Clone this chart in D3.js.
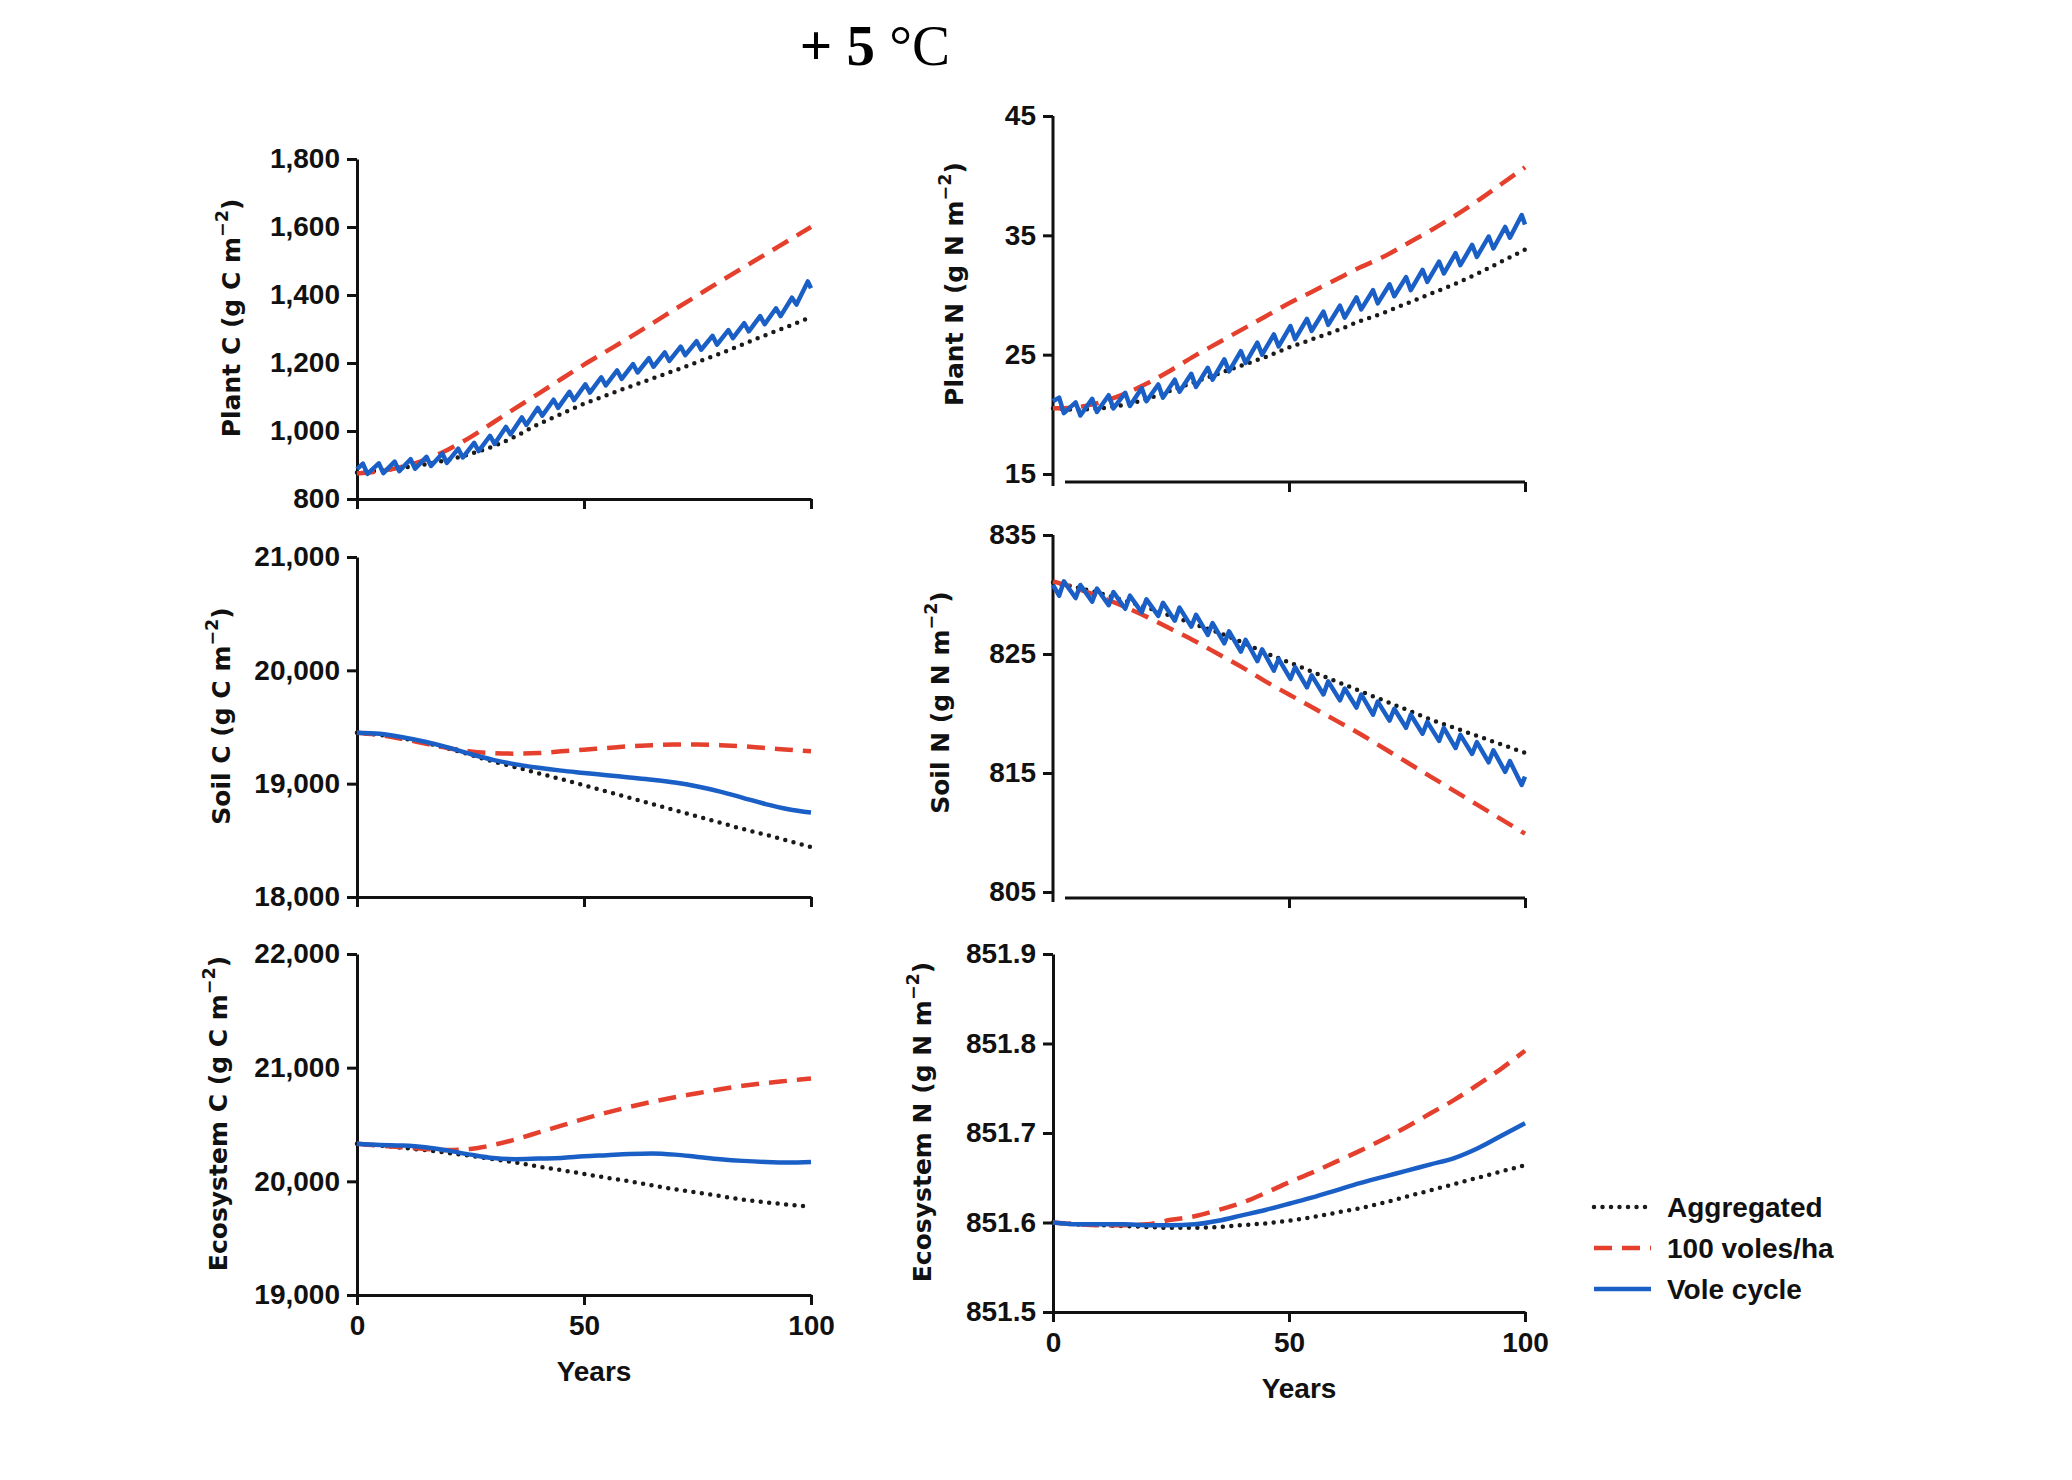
<!DOCTYPE html>
<html>
<head>
<meta charset="utf-8">
<script src="https://cdn.jsdelivr.net/npm/d3@7"></script>
<style>
    body { margin: 0; background: #fff; }
    .tick text { font-family: "Liberation Sans", Arial, sans-serif; font-weight: bold; font-size: 28px; fill: #111; }
    .axis path, .axis line { stroke: #111; stroke-width: 3px; }
</style>
</head>
<body>
<div id="chart"></div>
<script>

// years for the smooth series and for the vole cycle series (peak / crash of each ~3.5 year cycle)
var years = [0, 5, 10, 15, 20, 25, 30, 35, 40, 45, 50, 55, 60, 65, 70, 75, 80, 85, 90, 95, 100];
var cycleYears = [0, 1.3, 2.3, 4.8, 5.8, 8.3, 9.3, 11.8, 12.8, 15.3, 16.3, 18.8, 19.8, 22.3, 23.3, 25.8, 26.8,
                  29.3, 30.3, 32.8, 33.8, 36.3, 37.3, 39.8, 40.8, 43.3, 44.3, 46.8, 47.8, 50.3, 51.3, 53.8, 54.8,
                  57.3, 58.3, 60.8, 61.8, 64.3, 65.3, 67.8, 68.8, 71.3, 72.3, 74.8, 75.8, 78.3, 79.3, 81.8, 82.8,
                  85.3, 86.3, 88.8, 89.8, 92.3, 93.3, 95.8, 96.8, 99.3, 100];
var xTicks = [0, 50, 100];

var seriesNames = ["Aggregated", "100 voles/ha", "Vole cycle"];

// Plant C
var plantCTicks = [800, 1000, 1200, 1400, 1600, 1800];
var plantCAgg = [878, 884, 892, 902, 915, 933, 955, 985, 1020, 1050, 1080, 1105, 1130, 1154, 1178, 1203, 1228, 1255, 1282, 1308, 1335];
var plantCDense = [875, 882, 895, 915, 945, 982, 1025, 1068, 1110, 1153, 1195, 1235, 1275, 1316, 1358, 1399, 1440, 1480, 1520, 1560, 1600];
var plantCCycle = [888, 904, 874, 905, 876, 910, 882, 917, 889, 924, 897, 934, 906, 948, 922, 965, 941,
                   986, 962, 1012, 990, 1040, 1018, 1068, 1045, 1092, 1068, 1115, 1091, 1137, 1113, 1158, 1134,
                   1178, 1153, 1197, 1172, 1214, 1189, 1231, 1206, 1248, 1223, 1264, 1239, 1280, 1254, 1297, 1273,
                   1317, 1293, 1338, 1314, 1361, 1338, 1392, 1372, 1440, 1420];

// Plant N
var plantNTicks = [15, 25, 35, 45];
var plantNAgg = [20.5, 20.4, 20.5, 20.8, 21.3, 22.0, 22.7, 23.4, 24.1, 24.8, 25.6, 26.3, 27.0, 27.8, 28.5, 29.3, 30.1, 30.9, 31.8, 32.8, 33.8];
var plantNDense = [20.5, 20.6, 21.0, 21.7, 22.6, 23.7, 24.9, 26.0, 27.1, 28.2, 29.3, 30.3, 31.3, 32.3, 33.2, 34.3, 35.4, 36.6, 37.9, 39.3, 40.7];
var plantNCycle = [21.1, 21.4, 20.1, 21.0, 19.9, 21.3, 20.2, 21.6, 20.5, 21.8, 20.7, 22.2, 21.1, 22.5, 21.4, 22.9, 21.9,
                   23.4, 22.3, 23.9, 22.9, 24.6, 23.6, 25.3, 24.3, 26.0, 25.0, 26.7, 25.7, 27.4, 26.3, 28.0, 27.0,
                   28.6, 27.5, 29.1, 28.1, 29.8, 28.8, 30.4, 29.3, 30.9, 29.9, 31.5, 30.4, 32.1, 31.1, 32.8, 31.8,
                   33.5, 32.5, 34.2, 33.2, 34.9, 33.9, 35.7, 34.8, 36.7, 35.9];

// Soil C
var soilCTicks = [18000, 19000, 20000, 21000];
var soilCAgg = [19450, 19430, 19400, 19360, 19310, 19255, 19195, 19145, 19092, 19040, 18985, 18930, 18875, 18820, 18765, 18710, 18655, 18600, 18550, 18495, 18440];
var soilCDense = [19450, 19430, 19395, 19355, 19315, 19285, 19270, 19265, 19270, 19285, 19300, 19315, 19330, 19340, 19345, 19345, 19340, 19330, 19315, 19300, 19285];
var soilCCycle = [19450, 19440, 19410, 19370, 19320, 19262, 19210, 19170, 19140, 19115, 19095, 19075, 19055, 19035, 19010, 18975, 18930, 18875, 18820, 18775, 18745];

// Soil N
var soilNTicks = [805, 815, 825, 835];
var soilNAgg = [831.0, 830.6, 830.1, 829.5, 828.9, 828.2, 827.5, 826.8, 826.0, 825.1, 824.3, 823.5, 822.7, 821.9, 821.1, 820.3, 819.5, 818.8, 818.1, 817.4, 816.7];
var soilNDense = [831.1, 830.5, 829.8, 829.0, 828.1, 827.1, 826.1, 825.0, 823.9, 822.7, 821.6, 820.5, 819.4, 818.3, 817.1, 815.9, 814.7, 813.5, 812.3, 811.1, 809.9];
var soilNCycle = [830.8, 829.9, 831.1, 829.7, 830.8, 829.4, 830.5, 829.1, 830.2, 828.8, 829.9, 828.5, 829.6, 828.2, 829.3, 827.8, 828.9,
                  827.3, 828.3, 826.6, 827.6, 825.9, 826.9, 825.2, 826.2, 824.4, 825.4, 823.6, 824.6, 822.9, 823.9, 822.2, 823.2,
                  821.6, 822.7, 821.1, 822.1, 820.5, 821.6, 819.9, 821.0, 819.4, 820.4, 818.8, 819.9, 818.3, 819.3, 817.7, 818.8,
                  817.1, 818.2, 816.6, 817.6, 815.9, 816.9, 815.1, 816.0, 814.0, 814.7];

// Ecosystem C
var ecoCTicks = [19000, 20000, 21000, 22000];
var ecoCAgg = [20330, 20315, 20295, 20275, 20250, 20225, 20195, 20165, 20130, 20098, 20065, 20032, 20000, 19965, 19930, 19900, 19870, 19840, 19815, 19795, 19775];
var ecoCDense = [20330, 20315, 20300, 20285, 20275, 20285, 20320, 20370, 20430, 20490, 20550, 20605, 20655, 20700, 20740, 20775, 20810, 20840, 20865, 20885, 20905];
var ecoCCycle = [20330, 20320, 20315, 20300, 20270, 20235, 20205, 20195, 20200, 20205, 20220, 20230, 20240, 20245, 20235, 20215, 20195, 20180, 20170, 20165, 20170];

// Ecosystem N
var ecoNTicks = [851.5, 851.6, 851.7, 851.8, 851.9];
var ecoNAgg = [851.600, 851.598, 851.597, 851.596, 851.595, 851.594, 851.594, 851.595, 851.597, 851.599, 851.602, 851.606, 851.611, 851.616, 851.622, 851.629, 851.636, 851.643, 851.650, 851.657, 851.664];
var ecoNDense = [851.600, 851.598, 851.597, 851.597, 851.598, 851.603, 851.607, 851.614, 851.622, 851.633, 851.645, 851.656, 851.668, 851.680, 851.693, 851.707, 851.722, 851.737, 851.754, 851.772, 851.792];
var ecoNCycle = [851.600, 851.598, 851.598, 851.598, 851.597, 851.597, 851.598, 851.602, 851.608, 851.614, 851.621, 851.628, 851.636, 851.644, 851.651, 851.658, 851.665, 851.672, 851.683, 851.697, 851.711];

var W = 2072, H = 1480;
var colors = { agg: "#1a1a1a", dense: "#e5402d", cycle: "#1a5fc6" };
var labelFont = "\"DejaVu Sans\", Verdana, sans-serif";
var tickFont = "\"Liberation Sans\", Arial, sans-serif";

var panels = [
    { name: "Plant C (g C m", x0: 357, x1: 811, top: 159, bottom: 499, gap: 0, labelX: 231,
      ticks: plantCTicks, fmt: d3.format(","), agg: plantCAgg, dense: plantCDense, cycle: plantCCycle, cycleX: cycleYears, xLabels: false },
    { name: "Soil C (g C m", x0: 357, x1: 811, top: 557, bottom: 897, gap: 0, labelX: 221,
      ticks: soilCTicks, fmt: d3.format(","), agg: soilCAgg, dense: soilCDense, cycle: soilCCycle, cycleX: years, xLabels: false },
    { name: "Ecosystem C (g C m", x0: 357, x1: 811, top: 954, bottom: 1295, gap: 0, labelX: 218,
      ticks: ecoCTicks, fmt: d3.format(","), agg: ecoCAgg, dense: ecoCDense, cycle: ecoCCycle, cycleX: years, xLabels: true },
    { name: "Plant N (g N m", x0: 1053, x1: 1525, top: 116, bottom: 474, gap: 8, labelX: 954,
      ticks: plantNTicks, fmt: d3.format("d"), agg: plantNAgg, dense: plantNDense, cycle: plantNCycle, cycleX: cycleYears, xLabels: false },
    { name: "Soil N (g N m", x0: 1053, x1: 1525, top: 535, bottom: 892, gap: 6, labelX: 940,
      ticks: soilNTicks, fmt: d3.format("d"), agg: soilNAgg, dense: soilNDense, cycle: soilNCycle, cycleX: cycleYears, xLabels: false },
    { name: "Ecosystem N (g N m", x0: 1053, x1: 1525, top: 954, bottom: 1312, gap: 0, labelX: 922,
      ticks: ecoNTicks, fmt: d3.format(".1f"), agg: ecoNAgg, dense: ecoNDense, cycle: ecoNCycle, cycleX: years, xLabels: true }
];

var svg = d3.select("#chart").append("svg")
        .attr("width", W)
        .attr("height", H)
        .style("background", "#fff");

// title
var title = svg.append("text")
        .attr("x", 875)
        .attr("y", 65)
        .attr("text-anchor", "middle")
        .style("font-family", "\"Liberation Serif\", \"Times New Roman\", serif")
        .style("font-size", "57px")
        .style("fill", "#000");
title.append("tspan").text("+ 5 ").style("font-weight", "bold");
title.append("tspan").text("°C");

function drawPanel(p) {
    var x = d3.scaleLinear().domain([0, 100]).range([p.x0, p.x1]);
    var y = d3.scaleLinear().domain([p.ticks[0], p.ticks[p.ticks.length - 1]]).range([p.bottom, p.top]);
    var g = svg.append("g");

    // y axis
    var ya = g.append("g")
            .attr("class", "axis")
            .attr("transform", "translate(" + p.x0 + ",0)")
            .call(d3.axisLeft(y).tickValues(p.ticks).tickFormat(p.fmt).tickSize(10).tickSizeOuter(0).tickPadding(7));
    if (p.gap > 0) {
        ya.select(".domain").attr("d", "M0," + p.top + "V" + (p.bottom + p.gap + 4));
    }

    // x axis
    var xa = g.append("g")
            .attr("class", "axis")
            .attr("transform", "translate(0," + (p.bottom + p.gap) + ")")
            .call(d3.axisBottom(x).tickValues(p.gap > 0 ? xTicks.slice(1) : xTicks)
                  .tickFormat(p.xLabels ? d3.format("d") : "").tickSize(10).tickSizeOuter(0).tickPadding(10));
    if (p.gap > 0) {
        xa.select(".domain").attr("d", "M" + (p.x0 + 12) + ",0H" + p.x1);
    }
    g.selectAll(".tick text").style("font-family", tickFont);

    // y label
    var lab = g.append("text")
            .attr("transform", "translate(" + p.labelX + "," + ((p.top + p.bottom) / 2 - 11) + ") rotate(-90)")
            .attr("text-anchor", "middle")
            .attr("dominant-baseline", "central")
            .style("font-family", labelFont)
            .style("font-weight", "bold")
            .style("font-size", "25px")
            .style("fill", "#111");
    lab.append("tspan").text(p.name);
    lab.append("tspan").text("\u22122").attr("dy", "-0.5em").style("font-size", "70%");
    lab.append("tspan").text(")").attr("dy", "0.35em");

    var smooth = d3.line()
            .x(function(d) { return x(d[0]); })
            .y(function(d) { return y(d[1]); })
            .curve(d3.curveMonotoneX);
    var straight = d3.line()
            .x(function(d) { return x(d[0]); })
            .y(function(d) { return y(d[1]); });

    var aggData = d3.zip(years, p.agg);
    var denseData = d3.zip(years, p.dense);
    var cycleData = d3.zip(p.cycleX, p.cycle);

    g.append("path")
        .attr("d", smooth(aggData))
        .attr("fill", "none")
        .attr("stroke", colors.agg)
        .attr("stroke-width", 4.5)
        .attr("stroke-linecap", "round")
        .attr("stroke-dasharray", "0 8.5");

    g.append("path")
        .attr("d", smooth(denseData))
        .attr("fill", "none")
        .attr("stroke", colors.dense)
        .attr("stroke-width", 4.5)
        .attr("stroke-dasharray", "18 10");

    g.append("path")
        .attr("d", (p.cycleX === cycleYears ? straight : smooth)(cycleData))
        .attr("fill", "none")
        .attr("stroke", colors.cycle)
        .attr("stroke-width", 4.5)
        .attr("stroke-linejoin", "round");

    // Years label
    if (p.xLabels) {
        g.append("text")
            .attr("x", (p.x0 + p.x1) / 2 + 10)
            .attr("y", p.bottom + 76)
            .attr("text-anchor", "middle")
            .attr("dominant-baseline", "central")
            .style("font-family", tickFont)
            .style("font-weight", "bold")
            .style("font-size", "28px")
            .style("fill", "#111")
            .text("Years");
    }
}

panels.forEach(drawPanel);

// legend
var legendY = [1207, 1248, 1289];
var legendStyle = [
    { stroke: colors.agg, dash: "0 8.5", cap: "round" },
    { stroke: colors.dense, dash: "18 10", cap: "butt" },
    { stroke: colors.cycle, dash: null, cap: "butt" }
];
var leg = svg.append("g");
seriesNames.forEach(function(name, i) {
    leg.append("line")
        .attr("x1", 1594).attr("x2", 1651)
        .attr("y1", legendY[i]).attr("y2", legendY[i])
        .attr("stroke", legendStyle[i].stroke)
        .attr("stroke-width", 4.5)
        .attr("stroke-linecap", legendStyle[i].cap)
        .attr("stroke-dasharray", legendStyle[i].dash);
    leg.append("text")
        .attr("x", 1667)
        .attr("y", legendY[i])
        .attr("dominant-baseline", "central")
        .style("font-family", tickFont)
        .style("font-weight", "bold")
        .style("font-size", "28px")
        .style("fill", "#111")
        .text(name);
});

</script>
</body>
</html>
